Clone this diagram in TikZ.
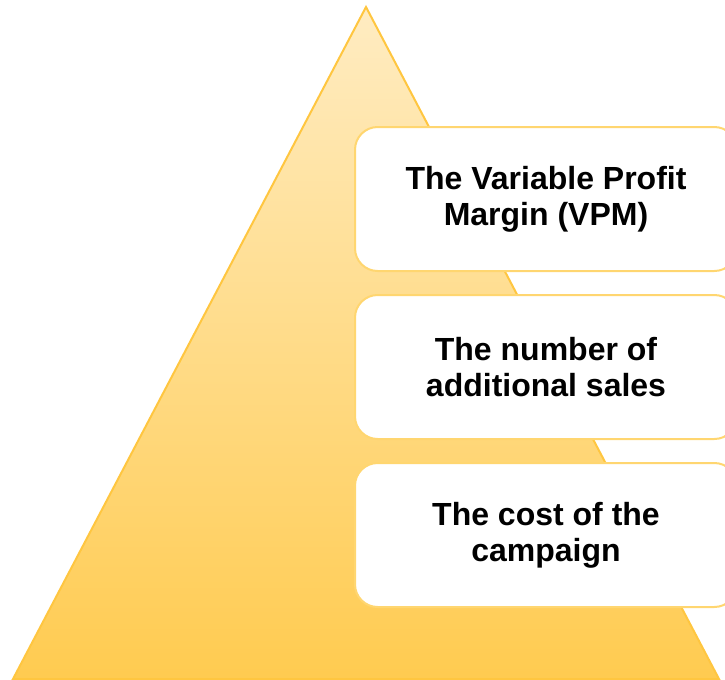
\documentclass[tikz,border=0pt]{standalone}
\usepackage{fontspec}
\setmainfont{Liberation Sans}
\usetikzlibrary{positioning}

\definecolor{pyrtop}{RGB}{255,236,194}
\definecolor{pyrbottom}{RGB}{255,203,80}
\definecolor{pyredge}{RGB}{255,198,64}
\definecolor{boxedge}{RGB}{255,214,112}

\tikzstyle{pyramid} = [draw=pyredge, line width=1.5pt, top color=pyrtop, bottom color=pyrbottom]
\tikzstyle{level}   = [draw=boxedge, line width=1.5pt, fill=white, rounded corners=17pt, inner sep=0pt, outer sep=0pt, minimum width=286.5pt, minimum height=108pt, align=center, font=\fontsize{24}{27}\selectfont\bfseries]

\begin{document}
\begin{tikzpicture}[x=0.75pt, y=-0.75pt]
  \useasboundingbox (0,0) rectangle (725,679);
  \draw[pyramid] (366,7) -- (719,679) -- (13,679) -- cycle;
  \node[level] (vpm) at (546,199) {The Variable Profit\\Margin (VPM)};
  \node[level, below=18pt of vpm]   (sales) {The number of\\additional sales};
  \node[level, below=18pt of sales] (cost)  {The cost of the\\campaign};
\end{tikzpicture}
\end{document}
